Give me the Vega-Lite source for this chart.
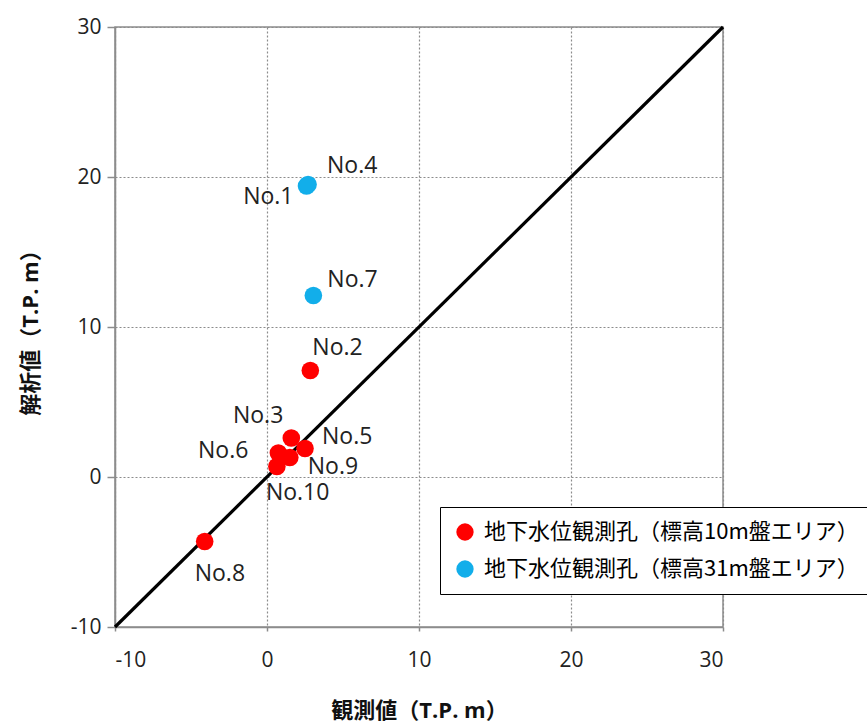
{
  "$schema": "https://vega.github.io/schema/vega-lite/v6.json",
  "width": 608,
  "height": 600,
  "autosize": {"type": "none"},
  "padding": {"left": 115, "top": 27, "right": 144, "bottom": 95},
  "background": "white",
  "datasets": {
    "pts": [
      {"no": "No.1", "obs": 2.6, "calc": 19.4, "group": "地下水位観測孔（標高31m盤エリア）"},
      {"no": "No.4", "obs": 2.7, "calc": 19.5, "group": "地下水位観測孔（標高31m盤エリア）"},
      {"no": "No.7", "obs": 3.05, "calc": 12.1, "group": "地下水位観測孔（標高31m盤エリア）"},
      {"no": "No.2", "obs": 2.85, "calc": 7.1, "group": "地下水位観測孔（標高10m盤エリア）"},
      {"no": "No.3", "obs": 1.6, "calc": 2.6, "group": "地下水位観測孔（標高10m盤エリア）"},
      {"no": "No.5", "obs": 2.5, "calc": 1.9, "group": "地下水位観測孔（標高10m盤エリア）"},
      {"no": "No.6", "obs": 0.75, "calc": 1.6, "group": "地下水位観測孔（標高10m盤エリア）"},
      {"no": "No.9", "obs": 1.5, "calc": 1.3, "group": "地下水位観測孔（標高10m盤エリア）"},
      {"no": "No.10", "obs": 0.65, "calc": 0.7, "group": "地下水位観測孔（標高10m盤エリア）"},
      {"no": "No.8", "obs": -4.1, "calc": -4.3, "group": "地下水位観測孔（標高10m盤エリア）"}
    ],
    "diag": [
      {"obs": -10, "calc": -10},
      {"obs": 30, "calc": 30}
    ]
  },
  "encoding": {
    "x": {
      "field": "obs", "type": "quantitative",
      "scale": {"domain": [-10, 30], "nice": false, "zero": false},
      "axis": {"values": [-10, 0, 10, 20, 30], "labelExpr": "'' + datum.value", "title": "観測値（T.P. m）", "titlePadding": 30, "labelPadding": 18, "tickSize": 4}
    },
    "y": {
      "field": "calc", "type": "quantitative",
      "scale": {"domain": [-10, 30], "nice": false, "zero": false},
      "axis": {"values": [-10, 0, 10, 20, 30], "labelExpr": "'' + datum.value", "title": "解析値（T.P. m）", "titlePadding": 28, "labelPadding": 6, "tickSize": 8}
    }
  },
  "layer": [
    {
      "data": {"name": "diag"},
      "mark": {"type": "line", "color": "black", "strokeWidth": 3.2},
      "encoding": {}
    },
    {
      "data": {"name": "pts"},
      "mark": {"type": "point", "filled": true, "opacity": 1, "size": 310, "shape": "circle"},
      "encoding": {
        "color": {
          "field": "group", "type": "nominal",
          "scale": {"domain": ["地下水位観測孔（標高10m盤エリア）", "地下水位観測孔（標高31m盤エリア）"], "range": ["#ff0000", "#12aeea"]},
          "legend": {
            "orient": "none", "legendX": 325, "legendY": 480, "title": null,
            "strokeColor": "black", "fillColor": "white",
            "padding": 14, "labelFontSize": 22, "labelFont": "Noto Sans CJK JP",
            "symbolSize": 300, "symbolType": "circle", "rowPadding": 15, "labelOffset": 8,
            "labelLimit": 600, "symbolStrokeWidth": 0,
            "encode": {
              "legend": {"update": {"strokeWidth": {"value": 1.5}}},
              "labels": {"update": {"fill": {"signal": "indexof(datum.label, '10m') >= 0 ? '#e8141a' : '#2a86d6'"}}}
            }
          }
        }
      }
    },
    {"data": {"name": "pts"}, "transform": [{"filter": "datum.no === 'No.4'"}],
     "mark": {"type": "text", "align": "left", "baseline": "middle", "dx": 19, "dy": -19, "fontSize": 23, "font": "Open Sans", "color": "#222"},
     "encoding": {"text": {"field": "no"}}},
    {"data": {"name": "pts"}, "transform": [{"filter": "datum.no === 'No.1'"}],
     "mark": {"type": "text", "align": "right", "baseline": "middle", "dx": -13, "dy": 11, "fontSize": 23, "font": "Open Sans", "color": "#222"},
     "encoding": {"text": {"field": "no"}}},
    {"data": {"name": "pts"}, "transform": [{"filter": "datum.no === 'No.7'"}],
     "mark": {"type": "text", "align": "left", "baseline": "middle", "dx": 14, "dy": -16, "fontSize": 23, "font": "Open Sans", "color": "#222"},
     "encoding": {"text": {"field": "no"}}},
    {"data": {"name": "pts"}, "transform": [{"filter": "datum.no === 'No.2'"}],
     "mark": {"type": "text", "align": "left", "baseline": "middle", "dx": 2, "dy": -23, "fontSize": 23, "font": "Open Sans", "color": "#222"},
     "encoding": {"text": {"field": "no"}}},
    {"data": {"name": "pts"}, "transform": [{"filter": "datum.no === 'No.3'"}],
     "mark": {"type": "text", "align": "right", "baseline": "middle", "dx": -8, "dy": -22, "fontSize": 23, "font": "Open Sans", "color": "#222"},
     "encoding": {"text": {"field": "no"}}},
    {"data": {"name": "pts"}, "transform": [{"filter": "datum.no === 'No.5'"}],
     "mark": {"type": "text", "align": "left", "baseline": "middle", "dx": 17, "dy": -12, "fontSize": 23, "font": "Open Sans", "color": "#222"},
     "encoding": {"text": {"field": "no"}}},
    {"data": {"name": "pts"}, "transform": [{"filter": "datum.no === 'No.6'"}],
     "mark": {"type": "text", "align": "right", "baseline": "middle", "dx": -30, "dy": -2, "fontSize": 23, "font": "Open Sans", "color": "#222"},
     "encoding": {"text": {"field": "no"}}},
    {"data": {"name": "pts"}, "transform": [{"filter": "datum.no === 'No.9'"}],
     "mark": {"type": "text", "align": "left", "baseline": "middle", "dx": 18, "dy": 9, "fontSize": 23, "font": "Open Sans", "color": "#222"},
     "encoding": {"text": {"field": "no"}}},
    {"data": {"name": "pts"}, "transform": [{"filter": "datum.no === 'No.10'"}],
     "mark": {"type": "text", "align": "left", "baseline": "middle", "dx": -11, "dy": 26, "fontSize": 23, "font": "Open Sans", "color": "#222"},
     "encoding": {"text": {"field": "no"}}},
    {"data": {"name": "pts"}, "transform": [{"filter": "datum.no === 'No.8'"}],
     "mark": {"type": "text", "align": "left", "baseline": "middle", "dx": -10, "dy": 32, "fontSize": 23, "font": "Open Sans", "color": "#222"},
     "encoding": {"text": {"field": "no"}}}
  ],
  "config": {
    "view": {"stroke": "#8c8c8c", "strokeWidth": 1.5},
    "axis": {
      "domainColor": "#8c8c8c", "domainWidth": 1.5, "tickColor": "#8c8c8c", "tickWidth": 1.5,
      "gridColor": "#8c8c8c", "gridDash": [2, 2], "gridWidth": 1.2,
      "labelFont": "Open Sans", "labelFontSize": 21, "labelColor": "#222",
      "titleFont": "Open Sans, Noto Sans CJK JP", "titleFontSize": 22, "titleFontWeight": "bold", "titleColor": "#111"
    }
  }
}
